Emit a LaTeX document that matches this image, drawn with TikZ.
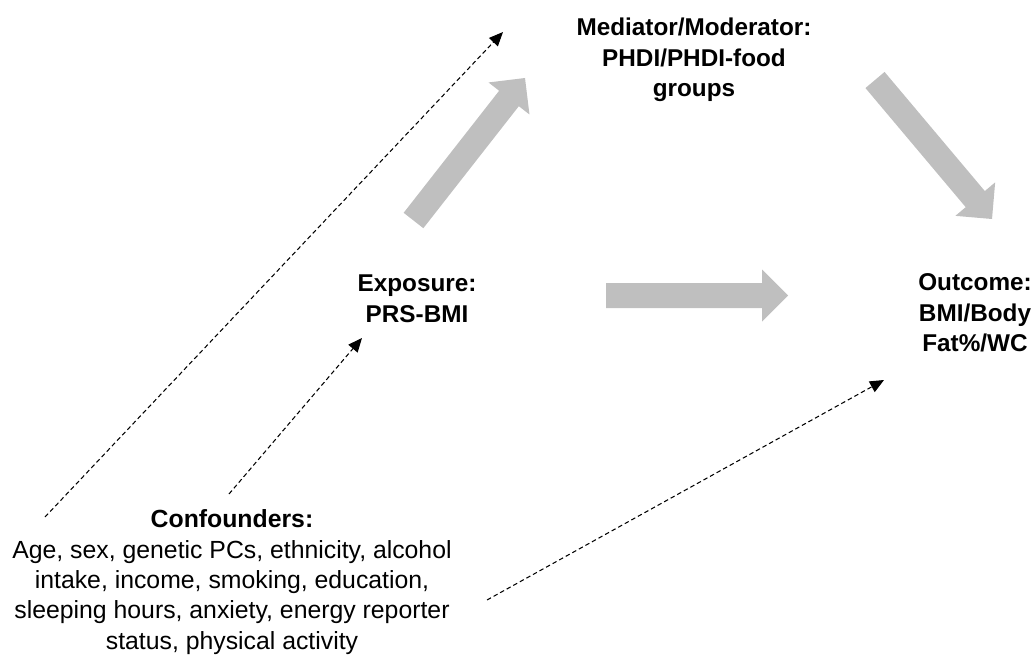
\documentclass[tikz,border=0pt]{standalone}
\usepackage{fontspec}
\setmainfont{Liberation Sans}
\usetikzlibrary{calc,arrows.meta}
\definecolor{blockgray}{HTML}{BFBFBF}
\newcommand{\blockarrow}[2]{%
  \coordinate (ba-n) at ($(#2)!26pt!(#1)$);
  \fill[blockgray]
    ($(#1)!12.5pt!90:(#2)$) -- ($(ba-n)!12.5pt!90:(#2)$) --
    ($(ba-n)!26pt!90:(#2)$) -- (#2) --
    ($(ba-n)!26pt!-90:(#2)$) -- ($(ba-n)!12.5pt!-90:(#2)$) --
    ($(#1)!12.5pt!-90:(#2)$) -- cycle;}
\begin{document}
\begin{tikzpicture}[x=1pt,y=-1pt,
  lbl/.style={align=center,inner sep=0pt,font=\fontsize{24.3}{30.5}\selectfont\bfseries},
  conflbl/.style={align=center,inner sep=0pt,font=\fontsize{24.8}{30.3}\selectfont},
  conn/.style={draw=black,line width=1.05pt,dash pattern=on 4.5pt off 3pt,
    -{Triangle[length=14pt,width=12pt]}}]
\useasboundingbox (0,0) rectangle (1035,655);
% text nodes
\node[lbl] (med) at (694,60)
  {Mediator/Moderator:\\PHDI/PHDI-food\\groups};
\node[lbl] (exp) at (417,299)
  {Exposure:\\PRS-BMI};
\node[lbl] (out) at (975,313)
  {Outcome:\\BMI/Body\\Fat\%/WC};
\node[conflbl] (conf) at (232,582)
  {\textbf{Confounders:}\\Age, sex, genetic PCs, ethnicity, alcohol\\intake, income, smoking, education,\\sleeping hours, anxiety, energy reporter\\status, physical activity};
% block arrow end points
\coordinate (em-t) at (413.5,220.5);
\coordinate (em-h) at (525,78);
\coordinate (mo-t) at (875,80);
\coordinate (mo-h) at (992,219);
\coordinate (eo-t) at (606,295.5);
\coordinate (eo-h) at (788,295.5);
\blockarrow{em-t}{em-h}
\blockarrow{mo-t}{mo-h}
\blockarrow{eo-t}{eo-h}
% dashed confounder arrows
\coordinate (ca-t) at (45,517);
\coordinate (ca-h) at (503,32);
\coordinate (cb-t) at (229,494);
\coordinate (cb-h) at (362,338);
\coordinate (cc-t) at (487,600);
\coordinate (cc-h) at (884,380);
\draw[conn] (ca-t) -- (ca-h);
\draw[conn] (cb-t) -- (cb-h);
\draw[conn] (cc-t) -- (cc-h);
\end{tikzpicture}
\end{document}
